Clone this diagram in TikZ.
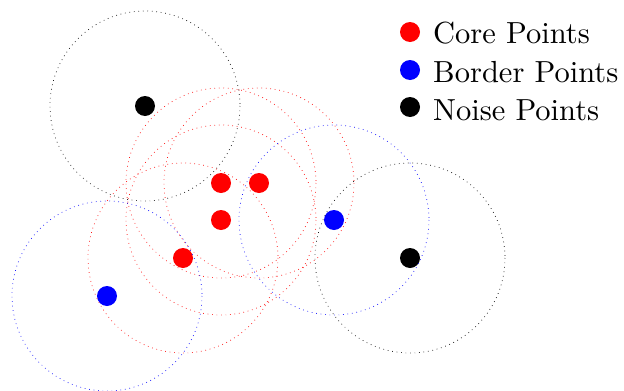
\documentclass[tikz,border=0pt]{standalone}
\begin{document}
\begin{tikzpicture}[x=1pt,y=-1pt,
  pt/.style={circle,fill=#1,inner sep=0pt,minimum size=20pt},
  reach/.style={draw=#1,line width=0.7pt,dash pattern=on 0.7pt off 3.8pt},
  lbl/.style={anchor=base west,inner sep=0pt}]
\useasboundingbox (0,0) rectangle (624,391);
% data points
\node[pt=black] (n1) at (145,106) {};
\node[pt=red]   (c1) at (221,183) {};
\node[pt=red]   (c2) at (259,183) {};
\node[pt=red]   (c3) at (221,220) {};
\node[pt=red]   (c4) at (183,258) {};
\node[pt=blue]  (b1) at (334,220) {};
\node[pt=blue]  (b2) at (107,296) {};
\node[pt=black] (n2) at (410,258) {};
% epsilon neighbourhoods
\foreach \p/\c in {n1/black,c1/red,c2/red,c3/red,c4/red,b1/blue,b2/blue,n2/black}
  \draw[reach=\c] (\p) circle[radius=95];
% legend
\node[pt=red]   (lc) at (410,32) {};
\node[pt=blue]  (lb) at (410,70) {};
\node[pt=black] (ln) at (410,107) {};
\node[lbl] (tc) at (433,43) {\scalebox{3.05}{Core Points}};
\node[lbl] (tb) at (433,82) {\scalebox{3.05}{Border Points}};
\node[lbl] (tn) at (433,120) {\scalebox{3.05}{Noise Points}};
\end{tikzpicture}
\end{document}
